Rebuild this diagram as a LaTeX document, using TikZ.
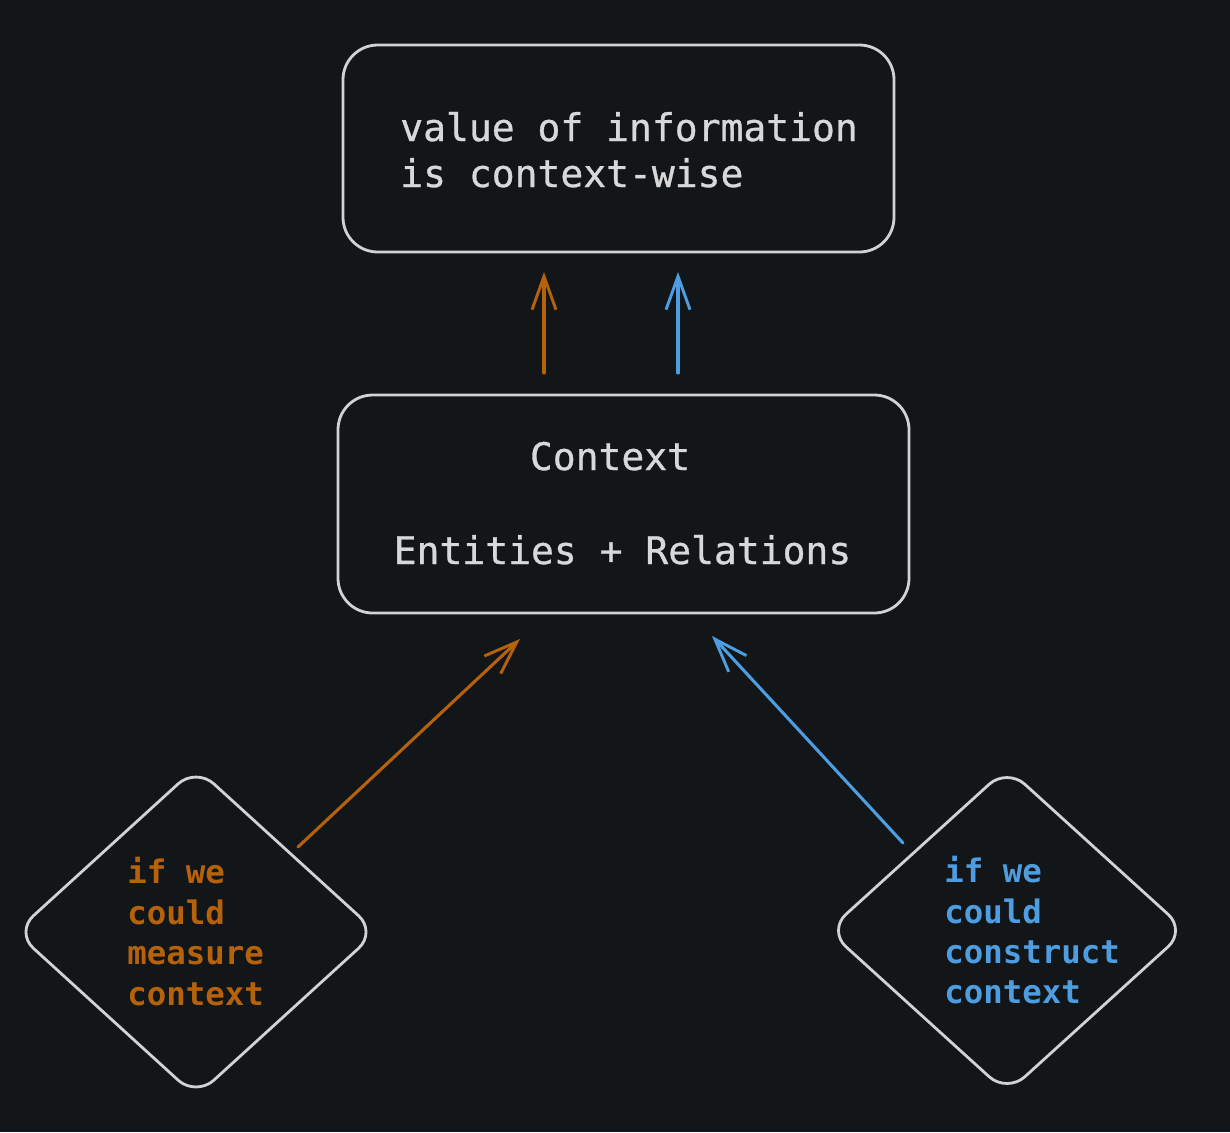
\documentclass[tikz,border=0pt]{standalone}
\usepackage{fontspec}
\newfontfamily\mono{DejaVu Sans Mono}
\newfontfamily\monomed[FakeBold=0.8]{DejaVu Sans Mono}
\usetikzlibrary{arrows.meta,shapes.geometric}
\definecolor{bg}{HTML}{131619}
\definecolor{strokegray}{HTML}{D2D2D2}
\definecolor{txtgray}{HTML}{D8D8D8}
\definecolor{orangec}{HTML}{B5620A}
\definecolor{bluec}{HTML}{4D9DE0}
\begin{document}
\begin{tikzpicture}[x=0.75pt,y=-0.75pt,
  box/.style={draw=strokegray, line width=2.1pt, rounded corners=26pt, inner sep=0pt},
  dia/.style={draw=strokegray, line width=2.1pt, diamond, rounded corners=18pt, inner sep=0pt},
  bigtxt/.style={text=txtgray, inner sep=0pt, font=\monomed\fontsize{28.5}{34}\selectfont},
  smalltxt/.style={inner sep=0pt, font=\mono\bfseries\fontsize{24.3}{30}\selectfont},
  arr/.style={-{Straight Barb[length=25pt,width=18pt,line width=2.2pt]}, line width=2.3pt, line cap=round}
]
\fill[bg] (0,0) rectangle (1230,1132);
\useasboundingbox (0,0) rectangle (1230,1132);

% boxes
\node[box, minimum width=413.25pt, minimum height=155.25pt] (top) at (618.5,148.5) {};
\node[box, minimum width=428.25pt, minimum height=163.5pt] (mid) at (623.5,504) {};
\node[dia, minimum width=271.5pt, minimum height=247.5pt] (ldia) at (196,932) {};
\node[dia, minimum width=269.25pt, minimum height=244.5pt] (rdia) at (1007,930.5) {};

% texts
\node[bigtxt, anchor=base west] (t1) at (400,141) {value of information};
\node[bigtxt, anchor=base west] (t2) at (400,187) {is context-wise};
\node[bigtxt, anchor=base] (m1) at (610,470) {Context};
\node[bigtxt, anchor=base] (m2) at (622.5,564) {Entities + Relations};

\node[smalltxt, text=orangec, anchor=base west] (l1) at (127,883) {if we};
\node[smalltxt, text=orangec, anchor=base west] (l2) at (127,924) {could};
\node[smalltxt, text=orangec, anchor=base west] (l3) at (127,964) {measure};
\node[smalltxt, text=orangec, anchor=base west] (l4) at (127,1005) {context};

\node[smalltxt, text=bluec, anchor=base west] (r1) at (944,882) {if we};
\node[smalltxt, text=bluec, anchor=base west] (r2) at (944,923) {could};
\node[smalltxt, text=bluec, anchor=base west] (r3) at (944,963) {construct};
\node[smalltxt, text=bluec, anchor=base west] (r4) at (944,1003) {context};

% connector end points
\coordinate (oas) at (544,373);
\coordinate (oae) at (544,272);
\coordinate (bas) at (678,373);
\coordinate (bae) at (678,272);
\coordinate (ods) at (298,847);
\coordinate (ode) at (520,639);
\coordinate (bds) at (903,843);
\coordinate (bde) at (712,636);

\draw[arr, orangec] (oas) -- (oae);
\draw[arr, bluec] (bas) -- (bae);
\draw[arr, orangec] (ods) -- (ode);
\draw[arr, bluec] (bds) -- (bde);
\end{tikzpicture}
\end{document}
